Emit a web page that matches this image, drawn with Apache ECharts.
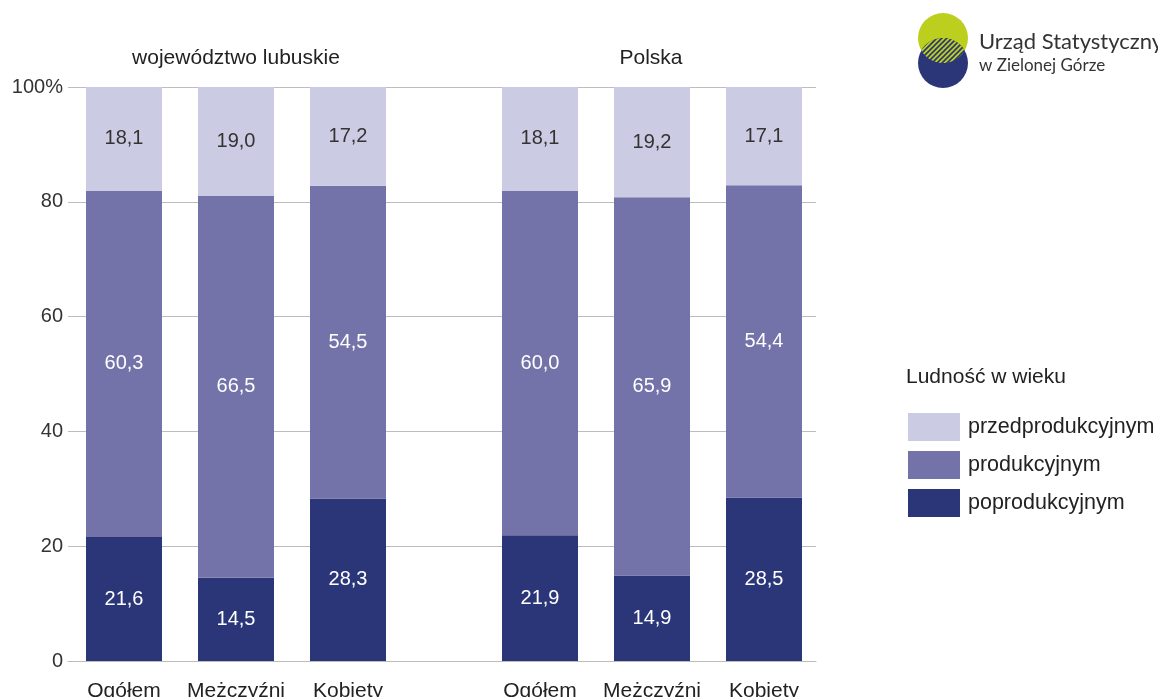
<!DOCTYPE html>
<html>
<head>
<meta charset="utf-8">
<script src="https://cdn.jsdelivr.net/npm/echarts@6/dist/echarts.min.js"></script>
<style>
html,body{margin:0;padding:0;background:#fff;}
#chart{width:1158px;height:697px;}
</style>
</head>
<body>
<div id="chart"></div>
<script>
// ---- data ----
const categories = ['Ogółem', 'Mężczyźni', 'Kobiety'];
const groupTitles = ['województwo lubuskie', 'Polska'];
const seriesNames = ['przedprodukcyjnym', 'produkcyjnym', 'poprodukcyjnym'];
const lubuskiePre = [18.1, 19.0, 17.2];
const lubuskieProd = [60.3, 66.5, 54.5];
const lubuskiePost = [21.6, 14.5, 28.3];
const polskaPre = [18.1, 19.2, 17.1];
const polskaProd = [60.0, 65.9, 54.4];
const polskaPost = [21.9, 14.9, 28.5];
const yTicks = [0, 20, 40, 60, 80, 100];
const legendTitle = 'Ludność w wieku';
const logoLine1 = 'Urząd Statystyczny';
const logoLine2 = 'w Zielonej Górze';

// ---- styles ----
const FONT = 'Liberation Sans, Arial, sans-serif';
const colors = {pre: '#CBCBE4', prod: '#7373A9', post: '#2B3679'};
const gridColor = '#BDBDBD';

function fmt(v) { return v.toFixed(1).replace('.', ','); }

function makeSeries(name, data, color, idx, labelColor) {
  return {
    name: name,
    type: 'bar',
    stack: 'g' + idx,
    xAxisIndex: idx,
    yAxisIndex: idx,
    data: data,
    barWidth: 76,
    itemStyle: {color: color},
    label: {
      show: true,
      position: 'inside',
      color: labelColor,
      fontFamily: FONT,
      fontSize: 20,
      formatter: p => fmt(p.value)
    },
    emphasis: {disabled: true},
    z: 3
  };
}

const groupsData = [
  {post: lubuskiePost, prod: lubuskieProd, pre: lubuskiePre},
  {post: polskaPost, prod: polskaProd, pre: polskaPre}
];

const series = [];
groupsData.forEach((g, i) => {
  const idx = i + 1;
  series.push(makeSeries(seriesNames[2], g.post, colors.post, idx, '#ffffff'));
  series.push(makeSeries(seriesNames[1], g.prod, colors.prod, idx, '#ffffff'));
  series.push(makeSeries(seriesNames[0], g.pre, colors.pre, idx, '#333333'));
});

// ---- logo decoration (lens between the two circles, hatched) ----
const LX = 943, LY1 = 38, LY2 = 63, LR = 25;
function lensPoints() {
  const pts = [];
  const half = Math.acos(((LY2 - LY1) / 2) / LR);
  const n = 30;
  for (let i = 0; i <= n; i++) {
    const a = -Math.PI / 2 - half + (2 * half) * i / n;
    pts.push([LX + LR * Math.cos(a), LY2 + LR * Math.sin(a)]);
  }
  for (let i = 0; i <= n; i++) {
    const a = Math.PI / 2 - half + (2 * half) * i / n;
    pts.push([LX + LR * Math.cos(a), LY1 + LR * Math.sin(a)]);
  }
  return pts;
}
const hatch = document.createElement('canvas');
hatch.width = 5; hatch.height = 5;
(function () {
  const c = hatch.getContext('2d');
  c.fillStyle = '#BCCF1E';
  c.fillRect(0, 0, 5, 5);
  c.strokeStyle = '#2B3679';
  c.lineWidth = 1.6;
  c.beginPath();
  c.moveTo(-1, 6); c.lineTo(6, -1);
  c.moveTo(-1, 1); c.lineTo(1, -1);
  c.moveTo(4, 6); c.lineTo(6, 4);
  c.stroke();
})();

const gridBase = {top: 87, bottom: 36, containLabel: false, outerBoundsMode: 'none'};

const chart = echarts.init(document.getElementById('chart'), null, {renderer: 'canvas'});
const option = {
  animation: false,
  backgroundColor: '#ffffff',
  textStyle: {fontFamily: FONT},
  title: [
    {text: groupTitles[0], left: 236, top: 48, textAlign: 'center', padding: 0,
     textStyle: {fontFamily: FONT, fontSize: 21, fontWeight: 'normal', color: '#222'}},
    {text: groupTitles[1], left: 651, top: 48, textAlign: 'center', padding: 0,
     textStyle: {fontFamily: FONT, fontSize: 21, fontWeight: 'normal', color: '#222'}}
  ],
  legend: {
    orient: 'vertical',
    left: 908,
    top: 413,
    padding: 0,
    itemWidth: 52,
    itemHeight: 28,
    itemGap: 10,
    icon: 'rect',
    data: seriesNames,
    textStyle: {fontFamily: FONT, fontSize: 21.5, color: '#222', padding: [0, 0, 0, 3]},
    selectedMode: false
  },
  grid: [
    Object.assign({left: 68, right: 342}, gridBase),
    Object.assign({left: 68, width: 336}, gridBase),
    Object.assign({left: 484, width: 336}, gridBase)
  ],
  xAxis: [
    {gridIndex: 0, type: 'category', data: [''], axisLine: {show: true, lineStyle: {color: gridColor}},
     axisTick: {show: false}, axisLabel: {show: false}, splitLine: {show: false}},
    {gridIndex: 1, type: 'category', data: categories, axisLine: {show: false}, axisTick: {show: false},
     axisLabel: {fontFamily: FONT, fontSize: 21, color: '#222', margin: 20, interval: 0, hideOverlap: false}},
    {gridIndex: 2, type: 'category', data: categories, axisLine: {show: false}, axisTick: {show: false},
     axisLabel: {fontFamily: FONT, fontSize: 21, color: '#222', margin: 20, interval: 0, hideOverlap: false}}
  ],
  yAxis: [
    {gridIndex: 0, type: 'value', min: 0, max: 100, interval: 20,
     axisLine: {show: false}, axisTick: {show: false},
     splitLine: {show: true, lineStyle: {color: gridColor, width: 1}},
     axisLabel: {fontFamily: FONT, fontSize: 20, color: '#333', margin: 5,
       formatter: v => (v === yTicks[yTicks.length - 1] ? v + '%' : String(v))}},
    {gridIndex: 1, type: 'value', min: 0, max: 100, show: false, splitLine: {show: false}},
    {gridIndex: 2, type: 'value', min: 0, max: 100, show: false, splitLine: {show: false}}
  ],
  series: series,
  graphic: [
    {type: 'text', left: 906, top: 367,
     style: {text: legendTitle, font: '21px ' + FONT, fill: '#222'}},
    {type: 'circle', shape: {cx: LX, cy: LY1, r: LR}, style: {fill: '#BCCF1E'}},
    {type: 'circle', shape: {cx: LX, cy: LY2, r: LR}, style: {fill: '#2B3679'}},
    {type: 'polygon', shape: {points: lensPoints()},
     style: {fill: {image: hatch, repeat: 'repeat'}}},
    {type: 'text', left: 979, top: 31,
     style: {text: logoLine1, font: '22px Lato, "Open Sans", sans-serif', fill: '#333'}},
    {type: 'text', left: 979, top: 57,
     style: {text: logoLine2, font: '17px Lato, "Open Sans", sans-serif', fill: '#333'}}
  ]
};
chart.setOption(option);
</script>
</body>
</html>
